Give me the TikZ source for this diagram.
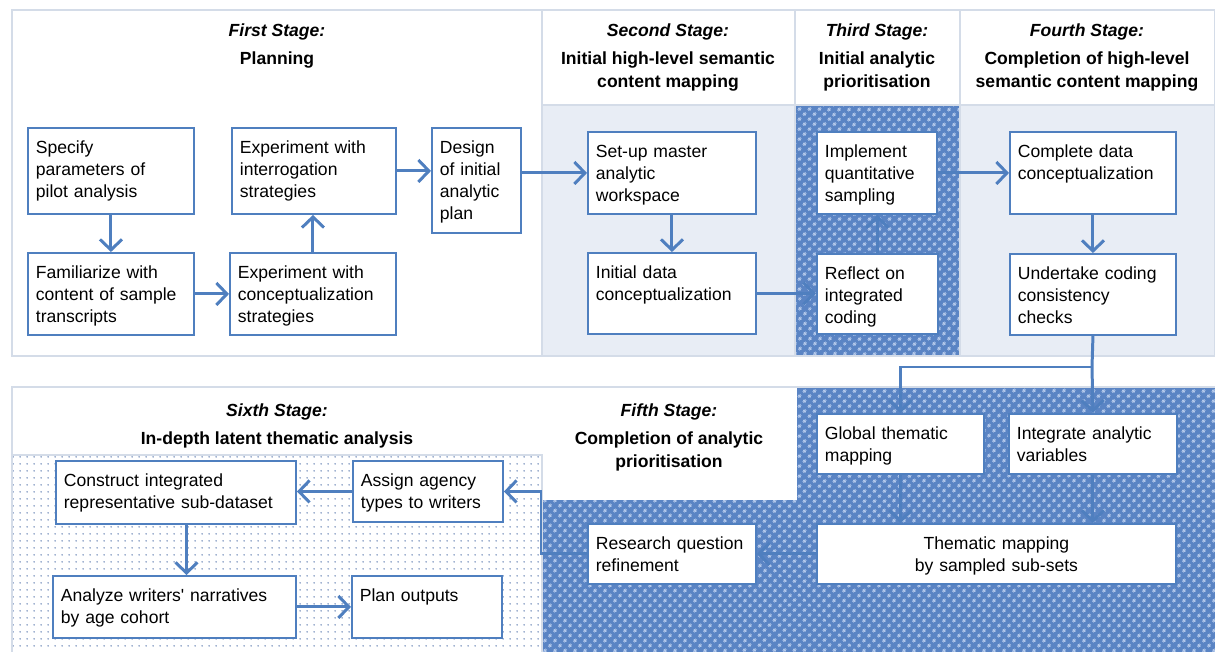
\documentclass[tikz,border=0pt]{standalone}
\usepackage{fontspec}
\setmainfont{Liberation Sans}
\usetikzlibrary{arrows.meta,patterns.meta}
\definecolor{boxblue}{HTML}{4F7FBF}
\definecolor{panelline}{HTML}{D4DCE8}
\definecolor{panelfill}{HTML}{E8EDF5}
\definecolor{hatchblue}{HTML}{5A84C4}
\definecolor{hatchlight}{HTML}{B3C8EA}
\definecolor{dotblue}{HTML}{8098C0}
\tikzset{
    stepbox/.style n args={2}{
    rectangle,draw=boxblue,line width=1.1pt,fill=white,anchor=north west,
    align=left,inner xsep=4.5pt,inner ysep=0pt,
    text width={#1*0.02cm-9pt},text height=14.5pt,text depth={#2*0.02cm-14.5pt},
    font=\fontsize{10}{12.5}\selectfont
    },
    stagehead/.style={
    anchor=north,align=center,inner sep=0pt,font=\bfseries\fontsize{10}{13}\selectfont
    },
    flow/.style={
    draw=boxblue,line width=1.7pt,-{Straight Barb[length=6pt,width=12.5pt]}
    },
    hatched/.style={
    pattern={Dots[angle=45,distance=4pt,radius=1pt]},pattern color=hatchlight
    },
    dotarea/.style={
    pattern={Dots[distance=4pt,radius=0.55pt]},pattern color=dotblue
    },
    panel/.style={
    draw=panelline,line width=0.8pt
    },
}
\begin{document}
\begin{tikzpicture}[x=0.02cm,y=-0.02cm]
  \useasboundingbox (0,0) rectangle (1215,652);
  % backgrounds
  \fill[panelfill] (542,105) rectangle (795,356);
  \fill[panelfill] (960,105) rectangle (1215,356);
  \fill[hatchblue] (795,105) rectangle (960,356);
  \fill[hatched] (795,105) rectangle (960,356);
  \fill[dotarea] (12,455) rectangle (542,652);
  \fill[hatchblue] (542,500) -- (797,500) -- (797,387) -- (1215,387) -- (1215,652) -- (542,652) -- cycle;
  \fill[hatched] (542,500) -- (797,500) -- (797,387) -- (1215,387) -- (1215,652) -- (542,652) -- cycle;
  \draw[panel] (12,10) rectangle (1215,356);
  \draw[panel] (542,10) -- (542,356) (795,10) -- (795,356) (960,10) -- (960,356) (542,105) -- (1215,105);
  \draw[panel] (1215,387) -- (12,387) -- (12,652);
  \draw[panel] (12,455) -- (542,455) -- (542,652);

  % stage headings
  \node[stagehead] (h1) at (277,23) {\textit{First Stage:}\\[3pt] Planning};
  \node[stagehead] (h2) at (668,23) {\textit{Second Stage:}\\[3pt] Initial high-level semantic\\ content mapping};
  \node[stagehead] (h3) at (877,23) {\textit{Third Stage:}\\[3pt] Initial analytic\\ prioritisation};
  \node[stagehead] (h4) at (1087,23) {\textit{Fourth Stage:}\\[3pt] Completion of high-level\\ semantic content mapping};
  \node[stagehead] (h6) at (277,403) {\textit{Sixth Stage:}\\[3pt] In-depth latent thematic analysis};
  \node[stagehead] (h5) at (669,403) {\textit{Fifth Stage:}\\[3pt] Completion of analytic\\ prioritisation};

  % steps
  \node[stepbox={166}{86}] (spec) at (27,127) {Specify\\ parameters of\\ pilot analysis};
  \node[stepbox={166}{82}] (fam) at (27,252) {Familiarize with\\ content of sample\\ transcripts};
  \node[stepbox={164}{86}] (expi) at (231,127) {Experiment with\\ interrogation\\ strategies};
  \node[stepbox={166}{82}] (expc) at (229,252) {Experiment with\\ conceptualization\\ strategies};
  \node[stepbox={89}{105}] (design) at (431,127) {Design\\ of initial\\ analytic\\ plan};
  \node[stepbox={168}{82}] (setup) at (587,131) {Set-up master\\ analytic\\ workspace};
  \node[stepbox={168}{81}] (initd) at (587,252) {Initial data\\ conceptualization};
  \node[stepbox={120}{82}] (impl) at (816,131) {Implement\\ quantitative\\ sampling};
  \node[stepbox={121}{80}] (reflect) at (816,253) {Reflect on\\ integrated\\ coding};
  \node[stepbox={166}{82}] (compl) at (1009,131) {Complete data\\ conceptualization};
  \node[stepbox={166}{81}] (undert) at (1009,253) {Undertake coding\\ consistency\\ checks};
  \node[stepbox={167}{60}] (glob) at (816,413) {Global thematic\\ mapping};
  \node[stepbox={168}{60}] (integ) at (1008,413) {Integrate analytic\\ variables};
  \node[stepbox={359}{60},align=center] (them) at (816,523) {Thematic mapping\\ by sampled sub-sets};
  \node[stepbox={168}{60}] (resq) at (587,523) {Research question\\ refinement};
  \node[stepbox={150}{61}] (assign) at (352,460) {Assign agency\\ types to writers};
  \node[stepbox={240}{63}] (constr) at (55,460) {Construct integrated\\ representative sub-dataset};
  \node[stepbox={243}{62}] (analyze) at (52,575) {Analyze writers\textquotesingle\ narratives\\ by age cohort};
  \node[stepbox={150}{62}] (plan) at (351,575) {Plan outputs};
  \coordinate (fork) at (1092,367);

  % connectors
  \draw[flow] (spec.south) -- (fam.north);
  \draw[flow] (fam.east) -- (expc.west);
  \draw[flow] (expc.north) -- (expc.north |- expi.south);
  \draw[flow] (expi.east) -- (expi.east -| design.west);
  \draw[flow] (design.east |- setup.west) -- (setup.west);
  \draw[flow] (setup.south) -- (initd.north);
  \draw[flow] (initd.east) -- (initd.east -| reflect.west);
  \draw[flow] (reflect.north) -- (reflect.north |- impl.south);
  \draw[flow] (impl.east) -- (impl.east -| compl.west);
  \draw[flow] (compl.south) -- (undert.north);
  \draw[flow] (undert.south) -- (fork) -- (integ.north);
  \draw[flow] (fork) -| (glob.north);
  \draw[flow] (glob.south) -- (glob.south |- them.north);
  \draw[flow] (integ.south) -- (integ.south |- them.north);
  \draw[flow] (them.west) -- (resq.east);
  \draw[flow] (resq.west) -- ++(-46,0) |- (assign.east);
  \draw[flow] (assign.west) -- (assign.west -| constr.east);
  \draw[flow] ([xshift=6pt]constr.south) -- ([xshift=6pt]constr.south |- analyze.north);
  \draw[flow] (analyze.east) -- (analyze.east -| plan.west);
\end{tikzpicture}
\end{document}
